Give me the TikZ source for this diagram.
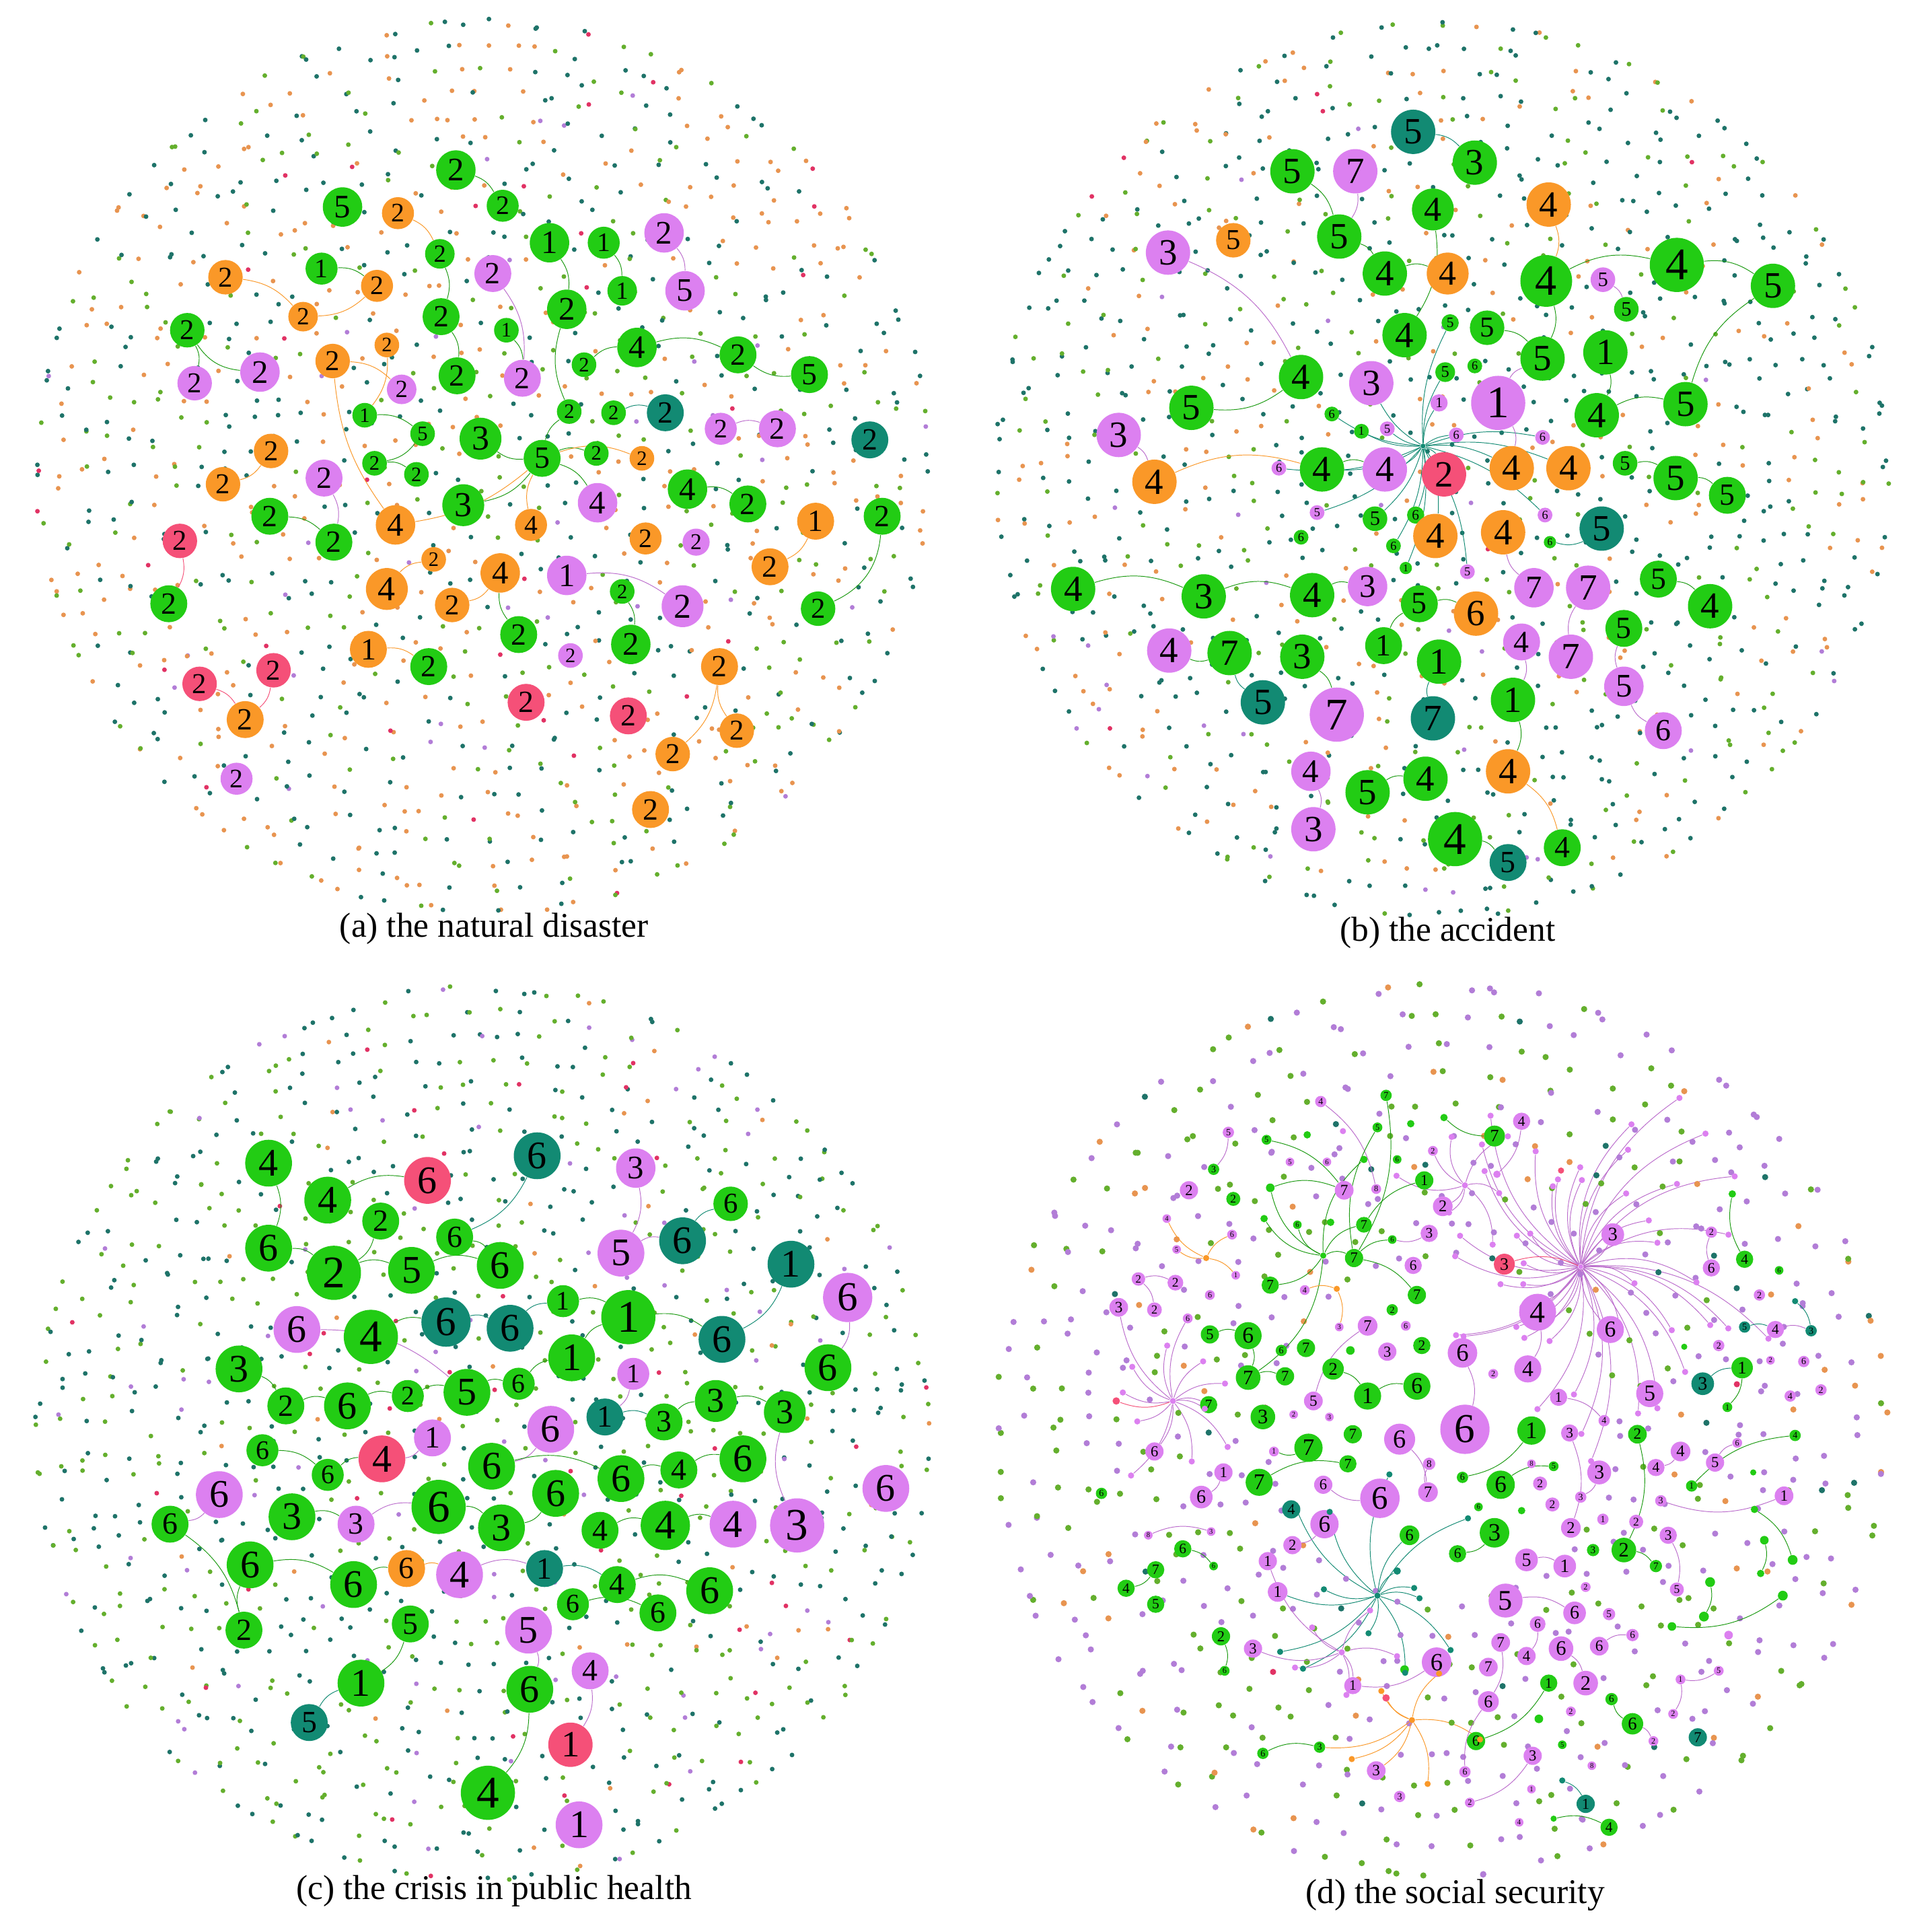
\documentclass[tikz,border=0pt]{standalone}
\usepackage{fontspec}
\setmainfont{Liberation Serif}
\pgfdeclarelayer{back}\pgfdeclarelayer{bg}
\pgfsetlayers{back,bg,main}
\definecolor{cgreen}{RGB}{34,204,20}
\definecolor{cteal}{RGB}{18,138,115}
\definecolor{cviolet}{RGB}{220,128,240}
\definecolor{corange}{RGB}{250,152,40}
\definecolor{cpink}{RGB}{245,80,120}
\definecolor{dc0}{RGB}{30,115,105}
\definecolor{dc1}{RGB}{232,148,80}
\definecolor{dc2}{RGB}{100,175,45}
\definecolor{dc3}{RGB}{178,125,215}
\definecolor{dc4}{RGB}{225,50,100}
\tikzset{
 nd/.style={circle, inner sep=0pt, text=black},
 ngr/.style={fill=cgreen}, ntl/.style={fill=cteal}, nvi/.style={fill=cviolet},
 nor/.style={fill=corange}, npk/.style={fill=cpink},
 egr/.style={draw=cgreen!75!black, line width=0.3pt},
 etl/.style={draw=cteal, line width=0.3pt},
 evi/.style={draw=cviolet!85!black, line width=0.3pt},
 eor/.style={draw=corange, line width=0.3pt},
 epk/.style={draw=cpink, line width=0.3pt},
 captxt/.style={font=\fontsize{16}{19}\selectfont}
}
\newcommand\N[6]{\node[nd,#5,minimum size={#4*0.04cm},font={\fontsize{\fpeval{#4*0.95}}{\fpeval{#4*1.1}}\selectfont}] (#1) at (#2,#3) {#6};}
\newcommand\E[4][20]{\draw[#2] (#3) to[bend left=#1] (#4);}
% cloud: cx cy t0 t1 t2 t3 dotradius spacing kstart
\newcommand\cloud[9]{%
 \pgfmathtruncatemacro\kmax{364/#8}%
 \foreach \k in {#9,...,\kmax}{%
  \pgfmathsetmacro\rr{#8*\k}%
  \pgfmathtruncatemacro\nn{6.2832*\k}%
  \pgfmathsetmacro\ph{rnd*360}%
  \foreach \j in {1,...,\nn}{%
   \pgfmathsetmacro\ang{\ph+\j/\nn*360+rnd*6}%
   \pgfmathsetmacro\ra{\rr+rnd*6-3}%
   \pgfmathsetmacro\cv{rnd}%
   \pgfmathtruncatemacro\ci{\cv<#3?0:(\cv<#4?1:(\cv<#5?2:(\cv<#6?3:4)))}%
   \fill[dc\ci] ({#1+\ra*cos(\ang)},{#2+\ra*sin(\ang)}) circle (#7);
  }}}
% spokes: hub hx hy count rmin rspan suffix bend
\newcommand\spokes[8]{%
 \foreach \i in {1,...,#4}{%
  \pgfmathsetmacro\ang{\i/#4*360+rnd*20}%
  \pgfmathsetmacro\rr{#5+rnd*#6}%
  \pgfmathsetmacro\px{#2+\rr*cos(\ang)}%
  \pgfmathsetmacro\py{#3+\rr*sin(\ang)}%
  \node[nd,n#7,minimum size=0.1cm] (#1s\i) at (\px,\py) {};
  \begin{pgfonlayer}{bg}\draw[e#7] (#1) to[bend left=#8] (#1s\i);\end{pgfonlayer}
 }}
\begin{document}
\begin{tikzpicture}[x=0.02cm,y=-0.02cm]
\pgfmathsetseed{11}
\begin{pgfonlayer}{back}
\fill[white] (0,0) rectangle (1551,1568);
\end{pgfonlayer}
\useasboundingbox (0,0) rectangle (1551,1568);

% ================= (a) =================
\N{a1}{278}{168}{16}{ngr}{5}
\N{a2}{323}{173}{13}{nor}{2}
\N{a3}{370}{138}{16}{ngr}{2}
\N{a4}{408}{167}{13}{ngr}{2}
\N{a5}{446}{197}{16}{ngr}{1}
\N{a6}{490}{197}{13}{ngr}{1}
\N{a7}{539}{189}{16}{nvi}{2}
\N{a8}{556}{236}{16}{nvi}{5}
\N{a9}{183}{225}{14}{nor}{2}
\N{a10}{261}{218}{13}{ngr}{1}
\N{a11}{306}{232}{13}{nor}{2}
\N{a12}{357}{206}{12}{ngr}{2}
\N{a13}{400}{222}{15}{nvi}{2}
\N{a14}{505}{236}{12}{ngr}{1}
\N{a15}{246}{257}{12}{nor}{2}
\N{a16}{358}{257}{15}{ngr}{2}
\N{a17}{411}{268}{10}{ngr}{1}
\N{a18}{460}{251}{16}{ngr}{2}
\N{a19}{152}{268}{14}{ngr}{2}
\N{a20}{270}{293}{14}{nor}{2}
\N{a21}{314}{280}{10}{nor}{2}
\N{a22}{517}{282}{16}{ngr}{4}
\N{a23}{599}{288}{15}{ngr}{2}
\N{a24}{657}{304}{15}{ngr}{5}
\N{a25}{158}{311}{14}{nvi}{2}
\N{a26}{211}{302}{16}{nvi}{2}
\N{a27}{371}{305}{15}{ngr}{2}
\N{a28}{424}{307}{15}{nvi}{2}
\N{a29}{474}{296}{10}{ngr}{2}
\N{a30}{326}{316}{12}{nvi}{2}
\N{a31}{296}{337}{10}{ngr}{1}
\N{a32}{462}{334}{10}{ngr}{2}
\N{a33}{498}{335}{10}{ngr}{2}
\N{a34}{540}{335}{15}{ntl}{2}
\N{a35}{585}{348}{13}{nvi}{2}
\N{a36}{631}{348}{15}{nvi}{2}
\N{a37}{706}{357}{15}{ntl}{2}
\N{a38}{220}{366}{14}{nor}{2}
\N{a39}{343}{352}{10}{ngr}{5}
\N{a40}{390}{356}{17}{ngr}{3}
\N{a41}{304}{376}{10}{ngr}{2}
\N{a42}{338}{385}{10}{ngr}{2}
\N{a43}{440}{372}{15}{ngr}{5}
\N{a44}{484}{368}{10}{ngr}{2}
\N{a45}{521}{372}{10}{nor}{2}
\N{a46}{181}{393}{14}{nor}{2}
\N{a47}{263}{388}{15}{nvi}{2}
\N{a48}{376}{410}{17}{ngr}{3}
\N{a49}{321}{426}{16}{nor}{4}
\N{a50}{431}{426}{13}{nor}{4}
\N{a51}{485}{408}{16}{nvi}{4}
\N{a52}{558}{397}{16}{ngr}{4}
\N{a53}{607}{409}{15}{ngr}{2}
\N{a54}{662}{423}{15}{nor}{1}
\N{a55}{716}{419}{15}{ngr}{2}
\N{a56}{146}{439}{14}{npk}{2}
\N{a57}{219}{419}{15}{ngr}{2}
\N{a58}{271}{440}{15}{ngr}{2}
\N{a59}{352}{454}{10}{nor}{2}
\N{a60}{406}{465}{16}{nor}{4}
\N{a61}{524}{437}{13}{nor}{2}
\N{a62}{565}{440}{11}{nvi}{2}
\N{a63}{625}{460}{15}{nor}{2}
\N{a64}{137}{490}{15}{ngr}{2}
\N{a65}{314}{478}{17}{nor}{4}
\N{a66}{367}{491}{14}{nor}{2}
\N{a67}{460}{467}{16}{nvi}{1}
\N{a68}{505}{480}{10}{ngr}{2}
\N{a69}{554}{492}{17}{nvi}{2}
\N{a70}{664}{494}{14}{ngr}{2}
\N{a71}{421}{515}{15}{ngr}{2}
\N{a72}{299}{527}{15}{nor}{1}
\N{a73}{348}{541}{15}{ngr}{2}
\N{a74}{463}{532}{10}{nvi}{2}
\N{a75}{512}{523}{16}{ngr}{2}
\N{a76}{584}{541}{15}{nor}{2}
\N{a77}{162}{555}{14}{npk}{2}
\N{a78}{222}{544}{14}{npk}{2}
\N{a79}{199}{584}{15}{nor}{2}
\N{a80}{427}{570}{15}{npk}{2}
\N{a81}{510}{581}{15}{npk}{2}
\N{a82}{598}{593}{14}{nor}{2}
\N{a83}{546}{612}{14}{nor}{2}
\N{a84}{192}{632}{13}{nvi}{2}
\N{a85}{528}{657}{15}{nor}{2}
\node[captxt] (capA) at (401,754) {(a) the natural disaster};

% ================= (b) =================
\N{b1}{1147}{107}{18}{ntl}{5}
\N{b2}{1197}{132}{18}{ngr}{3}
\N{b3}{1049}{139}{18}{ngr}{5}
\N{b4}{1100}{139}{18}{nvi}{7}
\N{b5}{1163}{170}{17}{ngr}{4}
\N{b6}{1257}{166}{18}{nor}{4}
\N{b7}{948}{205}{18}{nvi}{3}
\N{b8}{1001}{195}{14}{nor}{5}
\N{b9}{1087}{192}{18}{ngr}{5}
\N{b10}{1124}{222}{18}{ngr}{4}
\N{b11}{1175}{222}{17}{nor}{4}
\N{b12}{1255}{228}{21}{ngr}{4}
\N{b13}{1301}{227}{10}{nvi}{5}
\N{b14}{1361}{215}{22}{ngr}{4}
\N{b15}{1439}{232}{18}{ngr}{5}
\N{b16}{1140}{272}{18}{ngr}{4}
\N{b17}{1177}{262}{7}{ngr}{5}
\N{b18}{1207}{266}{14}{ngr}{5}
\N{b19}{1320}{251}{10}{ngr}{5}
\N{b20}{1252}{291}{18}{ngr}{5}
\N{b21}{1303}{286}{18}{ngr}{1}
\N{b22}{1056}{306}{18}{ngr}{4}
\N{b23}{1113}{311}{18}{nvi}{3}
\N{b24}{1173}{302}{8}{ngr}{5}
\N{b25}{1197}{297}{6}{ngr}{6}
\N{b26}{1216}{327}{22}{nvi}{1}
\N{b27}{1296}{337}{18}{ngr}{4}
\N{b28}{1368}{328}{18}{ngr}{5}
\N{b29}{908}{353}{18}{nvi}{3}
\N{b30}{967}{331}{18}{ngr}{5}
\N{b31}{1168}{327}{7}{nvi}{1}
\N{b32}{1081}{336}{6}{ngr}{6}
\N{b33}{1105}{350}{6}{ngr}{1}
\N{b34}{1126}{348}{6}{nvi}{5}
\N{b35}{1182}{353}{6}{nvi}{6}
\N{b36}{937}{391}{18}{nor}{4}
\N{b37}{1038}{380}{6}{nvi}{6}
\N{b38}{1073}{381}{18}{ngr}{4}
\N{b39}{1124}{381}{18}{nvi}{4}
\N{b40}{1172}{385}{18}{npk}{2}
\N{b41}{1227}{380}{18}{nor}{4}
\N{b42}{1273}{380}{18}{nor}{4}
\N{b43}{1319}{376}{10}{ngr}{5}
\N{b44}{1360}{388}{18}{ngr}{5}
\N{b45}{1402}{402}{15}{ngr}{5}
\N{b46}{1252}{355}{6}{nvi}{6}
\N{b47}{1069}{416}{6}{nvi}{5}
\N{b48}{1116}{421}{10}{ngr}{5}
\N{b49}{1149}{418}{7}{ngr}{6}
\N{b50}{1254}{418}{6}{nvi}{6}
\N{b51}{1056}{436}{6}{ngr}{6}
\N{b52}{1131}{443}{6}{ngr}{6}
\N{b53}{1165}{435}{18}{nor}{4}
\N{b54}{1220}{432}{18}{nor}{4}
\N{b55}{1258}{440}{5}{ngr}{6}
\N{b56}{1300}{429}{18}{ntl}{5}
\N{b57}{1141}{461}{5}{ngr}{1}
\N{b58}{1191}{464}{6}{nvi}{5}
\N{b59}{871}{478}{18}{ngr}{4}
\N{b60}{977}{484}{18}{ngr}{3}
\N{b61}{1065}{483}{18}{ngr}{4}
\N{b62}{1110}{476}{16}{nvi}{3}
\N{b63}{1152}{490}{15}{ngr}{5}
\N{b64}{1198}{498}{18}{nor}{6}
\N{b65}{1245}{477}{16}{nvi}{7}
\N{b66}{1289}{477}{18}{nvi}{7}
\N{b67}{1346}{470}{15}{ngr}{5}
\N{b68}{1388}{492}{18}{ngr}{4}
\N{b69}{949}{528}{18}{nvi}{4}
\N{b70}{998}{530}{18}{ngr}{7}
\N{b71}{1057}{533}{18}{ngr}{3}
\N{b72}{1123}{524}{15}{ngr}{1}
\N{b73}{1168}{537}{18}{ngr}{1}
\N{b74}{1235}{521}{15}{nvi}{4}
\N{b75}{1275}{533}{18}{nvi}{7}
\N{b76}{1318}{510}{15}{ngr}{5}
\N{b77}{1025}{570}{18}{ntl}{5}
\N{b78}{1085}{580}{22}{nvi}{7}
\N{b79}{1163}{583}{18}{ntl}{7}
\N{b80}{1228}{568}{18}{ngr}{1}
\N{b81}{1318}{557}{16}{nvi}{5}
\N{b82}{1350}{593}{15}{nvi}{6}
\N{b83}{1064}{626}{16}{nvi}{4}
\N{b84}{1110}{643}{18}{ngr}{5}
\N{b85}{1157}{632}{18}{ngr}{4}
\N{b86}{1224}{626}{18}{nor}{4}
\N{b87}{1066}{673}{18}{nvi}{3}
\N{b88}{1181}{681}{22}{ngr}{4}
\N{b89}{1224}{700}{15}{ntl}{5}
\N{b90}{1268}{688}{15}{ngr}{4}
\N{bH}{1155}{362}{2}{ntl}{}
\node[captxt] (capB) at (1175,757) {(b) the accident};

% ================= (c) =================
\N{c1}{218}{944}{19}{ngr}{4}
\N{c2}{266}{974}{19}{ngr}{4}
\N{c3}{347}{958}{19}{npk}{6}
\N{c4}{436}{938}{19}{ntl}{6}
\N{c5}{516}{948}{16}{nvi}{3}
\N{c6}{593}{977}{14}{ngr}{6}
\N{c7}{309}{991}{15}{ngr}{2}
\N{c8}{218}{1013}{19}{ngr}{6}
\N{c9}{271}{1033}{22}{ngr}{2}
\N{c10}{334}{1031}{19}{ngr}{5}
\N{c11}{369}{1004}{15}{ngr}{6}
\N{c12}{406}{1027}{19}{ngr}{6}
\N{c13}{504}{1017}{19}{nvi}{5}
\N{c14}{554}{1007}{19}{ntl}{6}
\N{c15}{642}{1026}{19}{ntl}{1}
\N{c16}{688}{1053}{20}{nvi}{6}
\N{c17}{241}{1079}{19}{nvi}{6}
\N{c18}{301}{1085}{22}{ngr}{4}
\N{c19}{362}{1073}{20}{ntl}{6}
\N{c20}{414}{1078}{19}{ntl}{6}
\N{c21}{457}{1056}{13}{ngr}{1}
\N{c22}{510}{1069}{22}{ngr}{1}
\N{c23}{586}{1087}{19}{ntl}{6}
\N{c24}{194}{1111}{19}{ngr}{3}
\N{c25}{464}{1102}{19}{ngr}{1}
\N{c26}{514}{1115}{13}{nvi}{1}
\N{c27}{672}{1110}{19}{ngr}{6}
\N{c28}{232}{1141}{15}{ngr}{2}
\N{c29}{282}{1141}{19}{ngr}{6}
\N{c30}{331}{1133}{13}{ngr}{2}
\N{c31}{379}{1130}{19}{ngr}{5}
\N{c32}{421}{1123}{13}{ngr}{6}
\N{c33}{581}{1137}{17}{ngr}{3}
\N{c34}{637}{1146}{17}{ngr}{3}
\N{c35}{491}{1150}{15}{ntl}{1}
\N{c36}{539}{1154}{15}{ngr}{3}
\N{c37}{351}{1167}{15}{nvi}{1}
\N{c38}{447}{1160}{19}{nvi}{6}
\N{c39}{213}{1177}{13}{ngr}{6}
\N{c40}{266}{1197}{13}{ngr}{6}
\N{c41}{310}{1184}{19}{npk}{4}
\N{c42}{399}{1190}{19}{ngr}{6}
\N{c43}{504}{1200}{19}{ngr}{6}
\N{c44}{551}{1193}{15}{ngr}{4}
\N{c45}{603}{1184}{19}{ngr}{6}
\N{c46}{178}{1213}{19}{nvi}{6}
\N{c47}{719}{1208}{19}{nvi}{6}
\N{c48}{451}{1212}{19}{ngr}{6}
\N{c49}{138}{1237}{15}{ngr}{6}
\N{c50}{237}{1231}{19}{ngr}{3}
\N{c51}{289}{1237}{15}{nvi}{3}
\N{c52}{356}{1223}{22}{ngr}{6}
\N{c53}{407}{1240}{19}{ngr}{3}
\N{c54}{487}{1242}{15}{ngr}{4}
\N{c55}{540}{1238}{20}{ngr}{4}
\N{c56}{595}{1237}{19}{nvi}{4}
\N{c57}{647}{1238}{22}{nvi}{3}
\N{c58}{203}{1270}{19}{ngr}{6}
\N{c59}{287}{1286}{19}{ngr}{6}
\N{c60}{330}{1273}{15}{nor}{6}
\N{c61}{373}{1278}{19}{nvi}{4}
\N{c62}{442}{1273}{15}{ntl}{1}
\N{c63}{501}{1286}{15}{ngr}{4}
\N{c64}{576}{1291}{19}{ngr}{6}
\N{c65}{465}{1302}{13}{ngr}{6}
\N{c66}{534}{1309}{15}{ngr}{6}
\N{c67}{198}{1323}{15}{ngr}{2}
\N{c68}{333}{1318}{15}{ngr}{5}
\N{c69}{429}{1323}{19}{nvi}{5}
\N{c70}{479}{1356}{15}{nvi}{4}
\N{c71}{293}{1366}{19}{ngr}{1}
\N{c72}{430}{1371}{19}{ngr}{6}
\N{c73}{251}{1398}{15}{ntl}{5}
\N{c74}{463}{1416}{18}{npk}{1}
\N{c75}{396}{1455}{22}{ngr}{4}
\N{c76}{470}{1481}{19}{nvi}{1}
\node[captxt] (capC) at (401,1535) {(c) the crisis in public health};

% ================= (d) =================
\N{d1}{1072}{894}{4.6}{nvi}{4}
\N{d2}{1125}{889}{4.6}{ngr}{7}
\N{d3}{997}{919}{4.6}{nvi}{5}
\N{d4}{1028}{925}{4}{ngr}{5}
\N{d5}{1061}{921}{3}{ngr}{}
\N{d6}{1090}{918}{2.5}{nvi}{}
\N{d7}{1118}{915}{4}{ngr}{5}
\N{d8}{1145}{912}{3}{ngr}{}
\N{d9}{1047}{943}{3.5}{nvi}{5}
\N{d10}{1077}{943}{3.5}{nvi}{6}
\N{d11}{1107}{941}{3}{ngr}{}
\N{d12}{1134}{941}{3.5}{ngr}{6}
\N{d13}{985}{949}{4.6}{ngr}{3}
\N{d14}{965}{966}{7.4}{nvi}{2}
\N{d15}{1001}{973}{5.7}{ngr}{2}
\N{d16}{1031}{964}{3.5}{ngr}{}
\N{d17}{1091}{966}{7.6}{nvi}{7}
\N{d18}{1117}{965}{4}{nvi}{8}
\N{d19}{1156}{958}{7.4}{ngr}{1}
\N{d20}{1163}{934}{4}{nvi}{2}
\N{d21}{947}{989}{3.5}{nvi}{4}
\N{d22}{1026}{989}{3}{ngr}{}
\N{d23}{1053}{994}{3.5}{ngr}{6}
\N{d24}{1080}{992}{3}{ngr}{}
\N{d25}{1107}{994}{6.4}{ngr}{7}
\N{d26}{1130}{1006}{3.5}{ngr}{6}
\N{d27}{1160}{1001}{7}{nvi}{3}
\N{d28}{1000}{1002}{4}{nvi}{6}
\N{d29}{955}{1014}{3.5}{nvi}{5}
\N{d30}{979}{1021}{2.5}{nor}{}
\N{d31}{1003}{1035}{3.5}{nvi}{1}
\N{d32}{1074}{1019}{2.5}{ngr}{}
\N{d33}{1099}{1021}{7.4}{ngr}{7}
\N{d34}{1147}{1027}{7}{nvi}{6}
\N{d35}{924}{1038}{5.5}{nvi}{2}
\N{d36}{954}{1041}{6.4}{nvi}{2}
\N{d37}{1031}{1043}{7}{ngr}{7}
\N{d38}{1059}{1047}{4}{nvi}{4}
\N{d39}{1085}{1046}{2.5}{nor}{}
\N{d40}{1150}{1051}{7.4}{ngr}{7}
\N{d41}{908}{1061}{7.6}{nvi}{3}
\N{d42}{937}{1063}{6}{nvi}{2}
\N{d43}{982}{1051}{4}{nvi}{6}
\N{d44}{964}{1070}{4}{nvi}{6}
\N{d45}{1130}{1063}{4.6}{ngr}{2}
\N{d46}{1087}{1077}{3.5}{nvi}{3}
\N{d47}{1110}{1076}{8}{nvi}{7}
\N{d48}{1141}{1076}{4}{nvi}{6}
\N{d49}{982}{1083}{7.4}{ngr}{5}
\N{d50}{1013}{1084}{11}{ngr}{6}
\N{d51}{1040}{1096}{4.6}{ngr}{6}
\N{d52}{1060}{1094}{7.4}{ngr}{7}
\N{d53}{1096}{1096}{3.5}{ngr}{}
\N{d54}{1126}{1097}{7.4}{nvi}{3}
\N{d55}{1154}{1092}{7}{ngr}{2}
\N{d56}{1013}{1118}{10}{ngr}{7}
\N{d57}{1043}{1117}{7.4}{ngr}{7}
\N{d58}{1082}{1111}{8.7}{ngr}{2}
\N{d59}{1110}{1133}{11}{ngr}{1}
\N{d60}{1150}{1125}{11}{ngr}{6}
\N{d61}{1066}{1137}{7.6}{nvi}{5}
\N{d62}{981}{1140}{7}{ngr}{7}
\N{d63}{1025}{1150}{10}{ngr}{3}
\N{d64}{952}{1137}{2.5}{nvi}{}
\N{d65}{906}{1137}{3}{npk}{}
\N{d66}{1050}{1148}{3.5}{nvi}{2}
\N{d67}{1079}{1150}{3.5}{nvi}{3}
\N{d70}{1172}{907}{3}{ngr}{}
\N{d71}{1213}{922}{8.5}{ngr}{7}
\N{d72}{1235}{910}{7}{nvi}{4}
\N{d73}{1189}{962}{2.5}{nvi}{}
\N{d74}{1215}{953}{3}{nvi}{}
\N{d75}{1171}{979}{8}{nvi}{2}
\N{d76}{1267}{950}{2.5}{npk}{}
\N{d77}{1283}{1028}{2}{nvi}{}
\N{d78}{1309}{1002}{9.2}{nvi}{3}
\N{d79}{1389}{1000}{4.6}{nvi}{2}
\N{d80}{1221}{1026}{8.5}{npk}{3}
\N{d81}{1389}{1029}{7}{nvi}{6}
\N{d82}{1416}{1022}{7}{ngr}{4}
\N{d83}{1444}{1031}{3.5}{ngr}{6}
\N{d84}{1248}{1065}{15}{nvi}{4}
\N{d85}{1307}{1079}{11}{nvi}{6}
\N{d86}{1187}{1098}{12}{nvi}{6}
\N{d87}{1240}{1111}{11}{nvi}{4}
\N{d88}{1339}{1131}{11}{nvi}{5}
\N{d89}{1382}{1123}{9.2}{ntl}{3}
\N{d90}{1414}{1110}{8.7}{ngr}{1}
\N{d91}{1416}{1077}{4.6}{ntl}{5}
\N{d92}{1441}{1079}{7}{nvi}{4}
\N{d93}{1470}{1080}{4.6}{ntl}{3}
\N{d94}{1428}{1051}{4.6}{nvi}{2}
\N{d95}{1395}{1092}{4.6}{nvi}{2}
\N{d96}{1437}{1104}{3.5}{nvi}{2}
\N{d97}{1464}{1105}{4.6}{nvi}{6}
\N{d98}{1478}{1128}{4.6}{nvi}{2}
\N{d99}{1453}{1133}{4.6}{nvi}{4}
\N{d100}{1265}{1134}{7}{nvi}{1}
\N{d101}{1212}{1115}{4}{nvi}{2}
\N{d102}{1402}{1142}{4}{ngr}{1}
\N{d103}{1302}{1153}{4.6}{nvi}{4}
\N{d104}{1406}{969}{3}{ngr}{}
\N{d105}{1457}{1056}{2.5}{ntl}{}
\N{d106}{1367}{1093}{2.5}{ngr}{}
\N{d110}{937}{1178}{7.4}{nvi}{6}
\N{d111}{993}{1195}{7.4}{nvi}{1}
\N{d112}{1034}{1178}{4}{nvi}{1}
\N{d113}{1062}{1175}{11.5}{ngr}{7}
\N{d114}{1022}{1203}{11}{ngr}{7}
\N{d115}{1098}{1164}{7.4}{ngr}{7}
\N{d116}{1094}{1188}{7}{ngr}{7}
\N{d117}{1136}{1168}{12.6}{nvi}{6}
\N{d118}{1120}{1216}{16}{nvi}{6}
\N{d119}{975}{1215}{9.2}{nvi}{6}
\N{d120}{1074}{1205}{7.4}{nvi}{6}
\N{d121}{1048}{1225}{7.4}{ntl}{4}
\N{d122}{1075}{1237}{11.5}{nvi}{6}
\N{d123}{1159}{1211}{8}{nvi}{7}
\N{d124}{1160}{1188}{5}{nvi}{8}
\N{d125}{894}{1212}{4.6}{ngr}{6}
\N{d126}{1144}{1246}{8}{ngr}{6}
\N{d127}{1049}{1254}{7.4}{nvi}{2}
\N{d128}{1029}{1267}{7.4}{nvi}{1}
\N{d129}{1037}{1292}{8}{nvi}{1}
\N{d130}{960}{1257}{7}{ngr}{6}
\N{d131}{985}{1271}{3.5}{ngr}{6}
\N{d132}{932}{1246}{3.5}{nvi}{8}
\N{d133}{983}{1243}{3.5}{nvi}{3}
\N{d134}{938}{1274}{7}{ngr}{7}
\N{d135}{914}{1289}{7}{ngr}{4}
\N{d136}{938}{1302}{7}{ngr}{5}
\N{d137}{1118}{1295}{2.5}{ntl}{}
\N{d138}{1134}{1275}{3}{ntl}{}
\N{d139}{991}{1328}{7.4}{ngr}{2}
\N{d140}{1017}{1338}{7.4}{nvi}{3}
\N{d141}{994}{1356}{4}{ngr}{6}
\N{d142}{1098}{1368}{7}{nvi}{1}
\N{d143}{1089}{1341}{2.5}{nvi}{}
\N{d144}{1125}{1378}{3}{npk}{}
\N{d145}{1146}{1396}{2.5}{nor}{}
\N{d146}{1025}{1423}{4.6}{ngr}{6}
\N{d147}{1071}{1418}{4.6}{ngr}{3}
\N{d148}{1117}{1437}{7.6}{nvi}{3}
\N{d149}{1136}{1458}{4.6}{nvi}{3}
\N{d150}{1166}{1349}{12}{nvi}{6}
\N{d151}{1140}{1355}{3.5}{ngr}{}
\N{d160}{1189}{1160}{20}{nvi}{6}
\N{d161}{1243}{1161}{11.5}{ngr}{1}
\N{d162}{1274}{1163}{7}{nvi}{3}
\N{d163}{1329}{1164}{7.6}{ngr}{2}
\N{d164}{1364}{1178}{8}{nvi}{4}
\N{d165}{1344}{1191}{7}{nvi}{4}
\N{d166}{1392}{1187}{7.4}{nvi}{5}
\N{d167}{1410}{1171}{4}{nvi}{6}
\N{d168}{1457}{1165}{4.6}{ngr}{4}
\N{d169}{1218}{1205}{11.5}{ngr}{6}
\N{d170}{1298}{1195}{9.7}{nvi}{3}
\N{d171}{1250}{1204}{5.7}{nvi}{2}
\N{d172}{1243}{1188}{3.5}{nvi}{8}
\N{d173}{1261}{1190}{4}{ngr}{5}
\N{d174}{1187}{1199}{4.6}{ngr}{6}
\N{d175}{1200}{1223}{3.5}{ngr}{6}
\N{d176}{1235}{1226}{3}{ngr}{}
\N{d177}{1260}{1221}{5.7}{nvi}{2}
\N{d178}{1283}{1215}{4.6}{nvi}{3}
\N{d179}{1213}{1244}{12}{ngr}{3}
\N{d180}{1275}{1240}{8}{nvi}{2}
\N{d181}{1301}{1233}{4.6}{nvi}{1}
\N{d182}{1328}{1235}{5.7}{nvi}{2}
\N{d183}{1348}{1218}{4.6}{nvi}{3}
\N{d184}{1373}{1206}{4.6}{ngr}{1}
\N{d185}{1448}{1214}{7.6}{nvi}{1}
\N{d186}{1183}{1261}{7}{ngr}{6}
\N{d187}{1293}{1258}{5}{ngr}{3}
\N{d188}{1318}{1258}{10}{ngr}{2}
\N{d189}{1354}{1246}{7}{nvi}{3}
\N{d190}{1344}{1271}{5}{ngr}{7}
\N{d191}{1239}{1266}{9.2}{nvi}{5}
\N{d192}{1270}{1271}{9.2}{nvi}{1}
\N{d193}{1222}{1299}{13.8}{nvi}{5}
\N{d194}{1287}{1288}{4}{nvi}{2}
\N{d195}{1361}{1290}{5.7}{nvi}{5}
\N{d196}{1388}{1284}{4}{ngr}{}
\N{d197}{1278}{1309}{9.2}{nvi}{6}
\N{d198}{1306}{1310}{5}{nvi}{5}
\N{d199}{1248}{1318}{6.4}{nvi}{6}
\N{d200}{1325}{1327}{5}{nvi}{6}
\N{d201}{1218}{1333}{7.6}{nvi}{7}
\N{d202}{1239}{1344}{7.4}{nvi}{4}
\N{d203}{1267}{1338}{10}{nvi}{6}
\N{d204}{1298}{1336}{7.6}{nvi}{6}
\N{d205}{1208}{1353}{7.6}{nvi}{7}
\N{d206}{1257}{1366}{7}{ngr}{1}
\N{d207}{1287}{1366}{10}{nvi}{2}
\N{d208}{1364}{1363}{4}{nvi}{1}
\N{d209}{1395}{1356}{4}{nvi}{5}
\N{d210}{1208}{1381}{8.5}{nvi}{6}
\N{d211}{1308}{1379}{5}{ngr}{6}
\N{d212}{1325}{1399}{8.7}{ngr}{6}
\N{d213}{1358}{1391}{4}{nvi}{2}
\N{d214}{1249}{1395}{3.5}{ngr}{}
\N{d215}{1198}{1413}{7.4}{ngr}{6}
\N{d216}{1275}{1389}{4}{nvi}{2}
\N{d217}{1342}{1413}{4}{nvi}{2}
\N{d218}{1378}{1410}{7.4}{ntl}{7}
\N{d219}{1244}{1425}{7.4}{nvi}{3}
\N{d220}{1268}{1416}{3.5}{ngr}{5}
\N{d221}{1292}{1433}{3.5}{nvi}{8}
\N{d222}{1189}{1438}{4.6}{nvi}{6}
\N{d223}{1243}{1452}{3.5}{nvi}{1}
\N{d224}{1193}{1463}{4}{nvi}{2}
\N{d225}{1233}{1479}{3.5}{nvi}{4}
\N{d226}{1287}{1464}{7.4}{ntl}{1}
\N{d227}{1306}{1483}{7}{ngr}{4}
\N{d228}{1268}{1445}{2.5}{ntl}{}
\N{d229}{1261}{1476}{2.5}{ngr}{}
\N{d230}{1424}{1225}{3}{ngr}{}
\N{d231}{1432}{1250}{3.5}{ngr}{}
\N{d232}{1455}{1266}{4}{ngr}{}
\N{d233}{1429}{1277}{3}{ngr}{}
\N{d234}{1447}{1295}{4}{ngr}{}
\N{d235}{1383}{1312}{4}{ngr}{}
\N{d236}{1357}{1320}{3.5}{ngr}{}
\N{d237}{1403}{1327}{3.5}{nvi}{}
\N{d238}{1423}{1195}{2.5}{ngr}{}
\node[captxt] (capD) at (1181,1538) {(d) the social security};

% spokes from hubs
\spokes{d77}{1283}{1028}{46}{40}{130}{vi}{25}
\spokes{d64}{952}{1137}{10}{25}{55}{vi}{20}
\spokes{d137}{1118}{1295}{12}{30}{70}{tl}{20}
\spokes{d143}{1089}{1341}{5}{25}{40}{vi}{20}
\spokes{d145}{1146}{1396}{5}{25}{40}{or}{20}
\spokes{d73}{1189}{962}{6}{25}{40}{vi}{25}

% ================= background dots and edges =================
\begin{pgfonlayer}{bg}
\cloud{391}{379}{.38}{.71}{.93}{.97}{1.9}{19}{1}
\cloud{1170}{381}{.50}{.72}{.95}{.99}{1.9}{19}{1}
\cloud{391}{1163}{.48}{.53}{.90}{.97}{1.9}{19}{1}
\cloud{1170}{1160}{.05}{.15}{.47}{.995}{2.5}{24}{6}

% (a)
\E{egr}{a10}{a11} \E{eor}{a11}{a15} \E{eor}{a9}{a15}
\E[-25]{egr}{a19}{a26} \E{egr}{a19}{a25} \E{eor}{a20}{a30}
\E[-15]{eor}{a20}{a49} \E{egr}{a12}{a16} \E{egr}{a16}{a27}
\E{egr}{a5}{a18} \E{egr}{a29}{a22} \E{egr}{a22}{a23}
\E[-20]{egr}{a23}{a24} \E{egr}{a43}{a40} \E{egr}{a43}{a48}
\E{egr}{a43}{a32} \E{egr}{a43}{a44} \E{egr}{a43}{a51}
\E{eor}{a43}{a45} \E{eor}{a50}{a43} \E[-15]{eor}{a49}{a43}
\E{egr}{a32}{a18} \E{etl}{a33}{a34} \E{egr}{a52}{a53}
\E[30]{egr}{a55}{a70} \E{eor}{a54}{a63} \E{epk}{a56}{a64}
\E{epk}{a78}{a79} \E{epk}{a77}{a79} \E{eor}{a76}{a83}
\E{eor}{a82}{a76} \E{evi}{a67}{a69} \E{egr}{a68}{a75}
\E{egr}{a57}{a58} \E{eor}{a38}{a46} \E{eor}{a65}{a59}
\E{eor}{a60}{a66} \E{eor}{a72}{a73} \E{egr}{a71}{a60}
\E{evi}{a7}{a8} \E{egr}{a6}{a14} \E{evi}{a13}{a28}
\E{eor}{a2}{a12} \E{egr}{a39}{a41} \E{egr}{a41}{a42}
\E{evi}{a47}{a58} \E{evi}{a35}{a36} \E{egr}{a31}{a39}
\E{eor}{a21}{a31} \E{egr}{a17}{a28} \E{egr}{a3}{a4}

% (b)
\foreach \t in {b24,b31,b33,b34,b35,b39,b40,b41,b42,b46,b47,b48,b49,b53,b57,b17,b32,b37,b52,b58,b50,b23,b38}{\E[15]{etl}{bH}{\t}}
\E{etl}{b1}{b2} \E{egr}{b3}{b9} \E{egr}{b9}{b10} \E{egr}{b10}{b11}
\E{egr}{b12}{b14} \E{egr}{b14}{b15} \E{egr}{b12}{b20} \E{egr}{b18}{b20}
\E{egr}{b21}{b27} \E{egr}{b27}{b28} \E{egr}{b28}{b15} \E{egr}{b22}{b30}
\E{evi}{b7}{b22} \E{evi}{b29}{b36} \E{eor}{b36}{b38} \E{egr}{b38}{b39}
\E{egr}{b59}{b60} \E{egr}{b60}{b61} \E{egr}{b61}{b62} \E{egr}{b70}{b69}
\E{egr}{b71}{b78} \E{etl}{b77}{b70} \E{etl}{b79}{b73} \E{egr}{b80}{b86}
\E{eor}{b86}{b90} \E{egr}{b88}{b89} \E{egr}{b84}{b85} \E{evi}{b83}{b87}
\E{evi}{b75}{b66} \E{evi}{b65}{b54} \E{evi}{b81}{b76} \E{egr}{b67}{b68}
\E{egr}{b44}{b45} \E{evi}{b26}{b20} \E{evi}{b26}{b41} \E{egr}{b5}{b16}
\E{evi}{b4}{b9} \E{eor}{b6}{b12} \E{evi}{b13}{b19} \E{egr}{b43}{b44}
\E{etl}{b56}{b55} \E{egr}{b63}{b64} \E{egr}{b72}{b63} \E{evi}{b74}{b80}
\E{evi}{b82}{b81}

% (c)
\E{egr}{c2}{c3} \E{egr}{c9}{c10} \E{egr}{c8}{c9} \E{egr}{c10}{c12}
\E{egr}{c11}{c12} \E{egr}{c7}{c9} \E{evi}{c13}{c14} \E{etl}{c14}{c6}
\E{etl}{c15}{c23} \E{evi}{c16}{c27} \E{etl}{c19}{c20} \E{egr}{c18}{c19}
\E{etl}{c20}{c21} \E{egr}{c21}{c22} \E{egr}{c22}{c23} \E{evi}{c17}{c31}
\E{egr}{c24}{c28} \E{egr}{c28}{c29} \E{egr}{c29}{c30} \E{egr}{c30}{c31}
\E{egr}{c31}{c32} \E{egr}{c32}{c25} \E{egr}{c25}{c22} \E{etl}{c35}{c36}
\E{egr}{c36}{c33} \E{egr}{c33}{c34} \E{evi}{c26}{c35} \E{evi}{c37}{c41}
\E{evi}{c38}{c42} \E{egr}{c39}{c40} \E{egr}{c40}{c41} \E{egr}{c42}{c43}
\E{egr}{c43}{c44} \E{egr}{c44}{c45} \E{egr}{c48}{c53} \E{egr}{c52}{c53}
\E{egr}{c50}{c51} \E{evi}{c51}{c52} \E{egr}{c54}{c55} \E{egr}{c55}{c56}
\E{evi}{c57}{c34} \E{egr}{c58}{c59} \E{egr}{c59}{c60} \E{eor}{c60}{c61}
\E{evi}{c61}{c62} \E{etl}{c62}{c63} \E{egr}{c63}{c64} \E{egr}{c65}{c66}
\E{egr}{c67}{c58} \E{egr}{c49}{c67} \E{egr}{c68}{c71} \E{evi}{c69}{c72}
\E{evi}{c70}{c74} \E{etl}{c73}{c71} \E{egr}{c72}{c75} \E{egr}{c1}{c8}
\E{etl}{c4}{c11} \E{evi}{c5}{c13} \E{evi}{c46}{c49}

% (d)
\E{evi}{d1}{d18} \E{evi}{d3}{d13} \E{egr}{d4}{d17} \E{egr}{d16}{d17}
\E[-20]{egr}{d7}{d33} \E{egr}{d2}{d33}
\foreach \t in {d21,d28,d29,d31}{\E{eor}{d30}{\t}}
\foreach \t in {d25,d33,d37,d22,d23,d16,d56,d11}{\E[25]{egr}{d32}{\t}}
\E{egr}{d33}{d40} \E{egr}{d33}{d26} \E{eor}{d38}{d39} \E{eor}{d39}{d46}
\E{egr}{d25}{d19} \E{evi}{d27}{d26} \E{evi}{d35}{d36} \E{evi}{d35}{d42}
\E{egr}{d49}{d50} \E{egr}{d50}{d56} \E{egr}{d56}{d57} \E{egr}{d58}{d59}
\E{egr}{d59}{d60} \E{evi}{d61}{d47}
\foreach \t in {d62,d41,d44,d110}{\E{evi}{d64}{\t}} \E{epk}{d64}{d65}
\E{egr}{d71}{d70} \E{evi}{d72}{d74} \E{evi}{d73}{d75} \E{evi}{d73}{d20}
\E{epk}{d80}{d77} \E{evi}{d78}{d77} \E{evi}{d85}{d77} \E{evi}{d84}{d87}
\E{evi}{d86}{d160} \E{egr}{d82}{d104} \E{evi}{d81}{d79} \E{etl}{d89}{d90}
\E{etl}{d91}{d92} \E{evi}{d92}{d93} \E{etl}{d105}{d93} \E{egr}{d90}{d102}
\E{evi}{d100}{d103} \E{egr}{d113}{d112} \E{evi}{d111}{d119} \E{egr}{d114}{d116}
\E{evi}{d123}{d124} \E{etl}{d137}{d138} \E{etl}{d137}{d126} \E{etl}{d137}{d129}
\E{evi}{d143}{d140} \E{evi}{d143}{d142} \E{evi}{d143}{d128}
\E{eor}{d145}{d144} \E{eor}{d145}{d148} \E{eor}{d145}{d147}
\E{egr}{d163}{d188} \E{evi}{d162}{d180} \E{egr}{d169}{d173} \E{egr}{d179}{d186}
\E{egr}{d188}{d190} \E{evi}{d191}{d192} \E{evi}{d193}{d197} \E{evi}{d201}{d210}
\E{evi}{d203}{d207} \E{egr}{d206}{d215} \E{egr}{d212}{d211} \E{evi}{d212}{d217}
\E{etl}{d228}{d226} \E{egr}{d229}{d227} \E{evi}{d219}{d224} \E{evi}{d222}{d210}
\E{egr}{d184}{d168} \E{egr}{d230}{d232} \E{egr}{d234}{d236} \E{egr}{d196}{d235}
\E{evi}{d185}{d183} \E{evi}{d164}{d165} \E{evi}{d166}{d167} \E{evi}{d170}{d178}
\E{evi}{d189}{d195} \E{evi}{d208}{d213} \E{evi}{d209}{d208} \E{egr}{d231}{d233}
\E{evi}{d117}{d123} \E{evi}{d118}{d120} \E{evi}{d122}{d127} \E{egr}{d130}{d131}
\E{egr}{d134}{d135} \E{evi}{d132}{d133} \E{egr}{d139}{d141} \E{egr}{d146}{d147}
\E{evi}{d150}{d142} \E{egr}{d161}{d174} \E{evi}{d199}{d202} \E{evi}{d204}{d200}
\end{pgfonlayer}
\end{tikzpicture}
\end{document}
